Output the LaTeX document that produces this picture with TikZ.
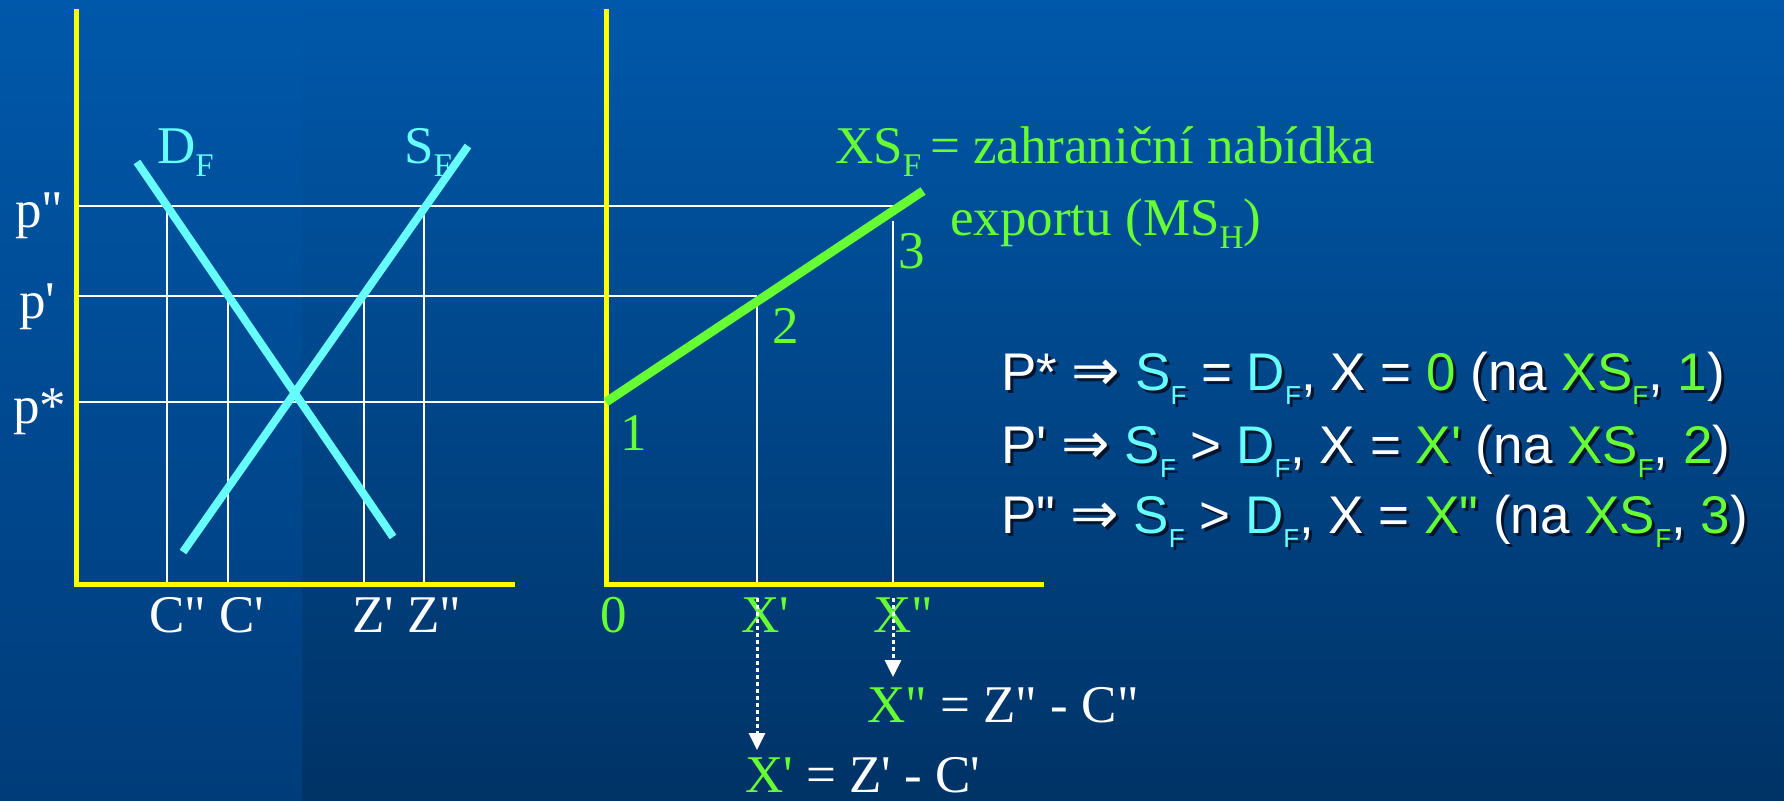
\documentclass[tikz,border=0pt]{standalone}
\usepackage{fontspec}
\setmainfont{Liberation Serif}
\newfontfamily\sansf{Liberation Sans}
\newfontfamily\dvsans{DejaVu Sans}
\usetikzlibrary{arrows.meta}
\definecolor{bgtop}{RGB}{0,88,170}
\definecolor{bgbot}{RGB}{0,51,102}
\definecolor{stripbot}{RGB}{0,60,122}
\definecolor{cyanc}{RGB}{102,255,255}
\definecolor{greenc}{RGB}{102,255,51}
\definecolor{yellowc}{RGB}{255,255,0}
\definecolor{shadowc}{RGB}{0,20,45}
\newif\ifshadow
\newcommand\cy[1]{\ifshadow#1\else\textcolor{cyanc}{#1}\fi}
\newcommand\gr[1]{\ifshadow#1\else\textcolor{greenc}{#1}\fi}
\newcommand\qs{\textquotesingle}
\newcommand\qd{\textquotedbl}
\newcommand\ssub[1]{\raisebox{-14pt}{\fontsize{26}{26}\selectfont #1}}
\newcommand\rsub[1]{\raisebox{-13pt}{\fontsize{33}{33}\selectfont #1}}
\newcommand\impl{{\dvsans\fontsize{58}{60}\selectfont ⇒}}
\tikzset{
  lbl/.style={anchor=base west, inner sep=0pt, font=\fontsize{53}{60}\selectfont},
  stxt/.style={anchor=base west, inner sep=0pt, font=\sansf\fontsize{53}{60}\selectfont, text=white},
  axis/.style={draw=yellowc, line width=5pt},
  guide/.style={draw=white, line width=2pt},
  curvec/.style={draw=cyanc, line width=8pt},
  curveg/.style={draw=greenc, line width=9pt},
  darrow/.style={draw=white, line width=3pt, dash pattern=on 4pt off 3pt,
     -{Triangle[width=16pt,length=17pt]}}
}
\newcommand\shline[4]{%
  \node[stxt, text=shadowc, xshift=3pt, yshift=-3pt] (#1s) at (#2,#3) {\shadowtrue #4};
  \node[stxt] (#1) at (#2,#3) {#4};}
\begin{document}
\begin{tikzpicture}[x=1pt, y=-1pt]
\useasboundingbox (0,0) rectangle (1784,800);
\shade[top color=bgtop, bottom color=bgbot] (0,0) rectangle (1784,800);
\shade[top color=bgtop, bottom color=stripbot] (0,0) rectangle (302,800);

% coordinates
\coordinate (LO) at (76,584);
\coordinate (LT) at (76,9);
\coordinate (LR) at (515,584);
\coordinate (RO) at (606,584);
\coordinate (RT) at (606,9);
\coordinate (RR) at (1044,584);

% guide lines
\draw[guide] (76,206) -- (893,206);
\draw[guide] (76,296) -- (757,296);
\draw[guide] (76,402) -- (606,402);
\draw[guide] (167,206) -- (167,584);
\draw[guide] (228,296) -- (228,584);
\draw[guide] (364,296) -- (364,584);
\draw[guide] (424,206) -- (424,584);
\draw[guide] (757,296) -- (757,584);
\draw[guide] (893,221) -- (893,584);

% axes
\draw[axis] (LT) -- (LO) -- (LR);
\draw[axis] (RT) -- (RO) -- (RR);

% curves
\coordinate (D1) at (137,162);
\coordinate (D2) at (393,537);
\coordinate (S1) at (468,146);
\coordinate (S2) at (183,552);
\draw[curvec] (D1) -- (D2);
\draw[curvec] (S1) -- (S2);
\coordinate (X1) at (606,402);
\coordinate (X2) at (923,191);
\draw[curveg] (X1) -- (X2);

% labels
\node[lbl, text=white] (lpdd) at (15,227) {p\qd};
\node[lbl, text=white] (lpd) at (19,318) {p\qs};
\node[lbl, text=white] (lps) at (13,423) {p*};
\node[lbl, text=cyanc] (ldf) at (157,163) {D\rsub{F}};
\node[lbl, text=cyanc] (lsf) at (404,163) {S\rsub{F}};
\node[lbl, text=white] (lc) at (149,632) {C\qd\ C\qs};
\node[lbl, text=white] (lz) at (352,632) {Z\qs\ Z\qd};
\node[lbl, text=greenc, anchor=base] (l0) at (614,632) {0};
\node[lbl, text=greenc] (lx1) at (741,632) {X\qs};
\node[lbl, text=greenc] (lx2) at (873,632) {X\qd};
\node[lbl, text=greenc] (n1) at (620,450) {1};
\node[lbl, text=greenc] (n2) at (772,343) {2};
\node[lbl, text=greenc] (n3) at (898,268) {3};
\node[lbl, text=greenc] (xs) at (835,163) {XS\rsub{F}\,= zahraniční nabídka};
\node[lbl, text=greenc] (exp) at (950,235) {exportu (MS\rsub{H})};
\node[lbl, text=white] (eq2) at (867,722) {\textcolor{greenc}{X\qd} = Z\qd\ - C\qd};
\node[lbl, text=white] (eq1) at (745,792) {\textcolor{greenc}{X\qs} = Z\qs\ - C\qs};

% dotted arrows
\coordinate (a1s) at (757,598);
\coordinate (a1e) at (757,750);
\coordinate (a2s) at (893,598);
\coordinate (a2e) at (893,677);
\draw[darrow] (a1s) -- (a1e);
\draw[darrow] (a2s) -- (a2e);

% right text
\shline{t1}{1001}{390}{P* \impl\ \cy{S\ssub{F}} = \cy{D\ssub{F}}, X = \gr{0} (na \gr{XS\ssub{F}}, \gr{1})}
\shline{t2}{1001}{463}{P\qs\ \impl\ \cy{S\ssub{F}} > \cy{D\ssub{F}}, X = \gr{X\qs} (na \gr{XS\ssub{F}}, \gr{2})}
\shline{t3}{1001}{533}{P\qd\ \impl\ \cy{S\ssub{F}} > \cy{D\ssub{F}}, X = \gr{X\qd} (na \gr{XS\ssub{F}}, \gr{3})}
\end{tikzpicture}
\end{document}
